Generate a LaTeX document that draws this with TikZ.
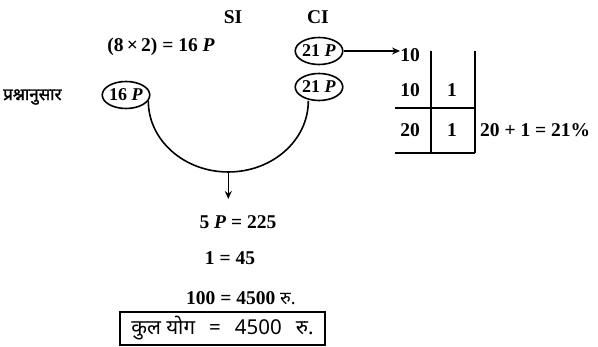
\documentclass[tikz,border=0pt]{standalone}
\usepackage{fontspec}
\setmainfont{Liberation Serif}
\newfontfamily\devfont[Script=Devanagari]{Noto Sans}
\newfontfamily\devbold[Script=Devanagari,FakeBold=1.5]{Noto Sans}
\usetikzlibrary{arrows.meta,shapes.geometric}
\begin{document}
\begin{tikzpicture}[x=1pt,y=-1pt,
  txt/.style={font=\fontsize{19.5}{21}\selectfont\bfseries, inner sep=0pt},
  oval/.style={draw, line width=1.6pt, ellipse, minimum width=47pt, minimum height=27pt, inner sep=0pt, font=\fontsize{18}{20}\selectfont\bfseries},
  ln/.style={line width=1.6pt},
  arr/.style={ln, -{Stealth[length=8pt,width=7pt]}}
]
\useasboundingbox (0,0) rectangle (598,347);
% titles
\node[txt] (si) at (233,17) {SI};
\node[txt] (ci) at (318,17) {CI};
\node[txt] (eq1) at (161,47) {(8\,×\,2) = 16 \textit{P}};
\node[inner sep=0pt, anchor=west, font=\devbold\fontsize{17}{19}\selectfont] (pr) at (3,97) {प्रश्नानुसार};
% ovals
\node[oval] (p16) at (126,95) {16 \textit{P}};
\node[oval] (c21a) at (319,51) {21 \textit{P}};
\node[oval] (c21b) at (319,87) {21 \textit{P}};
% curve
\path (p16.-15) ++(80,71) coordinate (bot);
\draw[ln] (p16.-15) arc[start angle=180, end angle=0, x radius=80, y radius=71];
\coordinate (arrend) at (bot |- 0,199);
\draw[arr] (bot) -- (arrend);
% table
\node[txt] (t10a) at (410,55) {10};
\draw[arr] (c21a.east) -- (c21a.east -| t10a.west);
\node[txt] (t10b) at (410,90) {10};
\node[txt] (t1a) at (452,90) {1};
\node[txt] (t20) at (410,130) {20};
\node[txt] (t1b) at (452,130) {1};
\coordinate (v1t) at (431,51);
\coordinate (v1b) at (431,153);
\coordinate (v2t) at (475,51);
\coordinate (v2b) at (475,153);
\coordinate (hl) at (395,108);
\coordinate (hr) at (475,108);
\coordinate (bl) at (395,153);
\draw[ln] (v1t) -- (v1b);
\draw[ln] (v2t) -- (v2b);
\draw[ln] (hl) -- (hr);
\draw[ln] (bl) -- (v2b);
\node[txt, anchor=west] (sum) at (480,130) {20 + 1 = 21\%};
% results
\node[txt] (r1) at (238,222) {5 \textit{P} = 225};
\node[txt] (r2) at (230,258) {1 = 45};
\node[txt, anchor=west] (r3) at (186,298) {100 = 4500 {\devfont\fontsize{18}{20}\selectfont\mdseries रु.}};
\node[draw, line width=1.3pt, minimum width=205pt, minimum height=33pt, inner sep=0pt,
      font=\devfont\fontsize{20.5}{22}\selectfont] (box) at (222.5,328.5) {कुल योग \ \,=\, \ 4500 \ \,रु.};
\end{tikzpicture}
\end{document}
